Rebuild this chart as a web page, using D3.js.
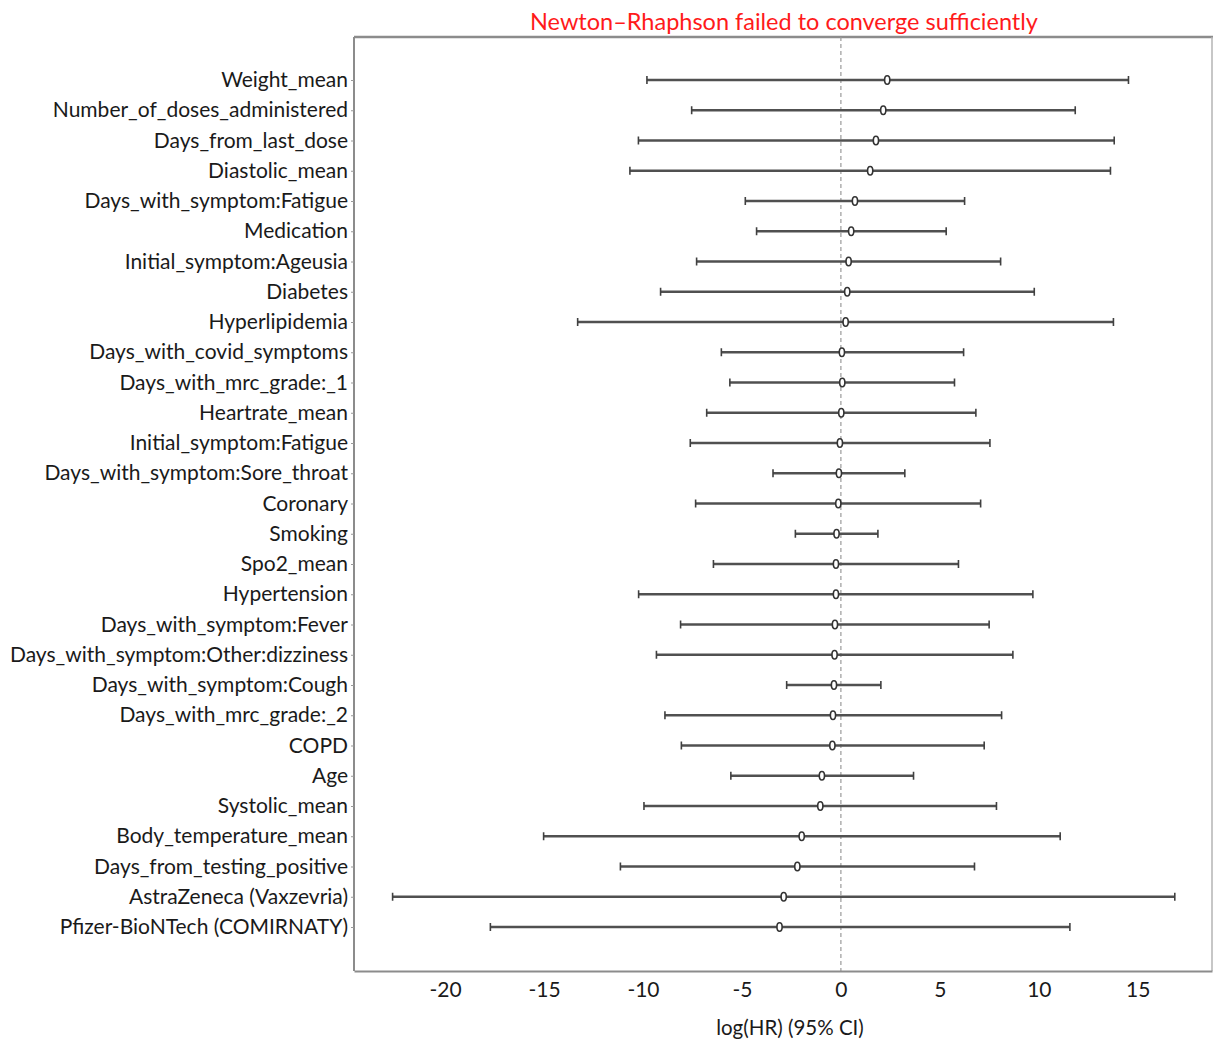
<!DOCTYPE html>
<html>
<head>
<meta charset="utf-8">
<script src="https://cdn.jsdelivr.net/npm/d3@7"></script>
<style>
  body { margin: 0; background: #fff; }
  svg text { font-family: Lato, "Open Sans", sans-serif; }
</style>
</head>
<body>
<svg id="chart" width="1213" height="1041"></svg>
<script>
// covariates, top to bottom
var covariates = [
  'Weight_mean', 'Number_of_doses_administered', 'Days_from_last_dose', 'Diastolic_mean',
  'Days_with_symptom:Fatigue', 'Medication', 'Initial_symptom:Ageusia', 'Diabetes',
  'Hyperlipidemia', 'Days_with_covid_symptoms', 'Days_with_mrc_grade:_1', 'Heartrate_mean',
  'Initial_symptom:Fatigue', 'Days_with_symptom:Sore_throat', 'Coronary', 'Smoking',
  'Spo2_mean', 'Hypertension', 'Days_with_symptom:Fever', 'Days_with_symptom:Other:dizziness',
  'Days_with_symptom:Cough', 'Days_with_mrc_grade:_2', 'COPD', 'Age', 'Systolic_mean',
  'Body_temperature_mean', 'Days_from_testing_positive', 'AstraZeneca (Vaxzevria)',
  'Pfizer-BioNTech (COMIRNATY)'
];
var logHR = [
  2.34, 2.14, 1.77, 1.48, 0.71, 0.52, 0.39, 0.32, 0.24, 0.05,
  0.07, 0.02, -0.05, -0.10, -0.13, -0.22, -0.25, -0.25, -0.30, -0.32,
  -0.35, -0.40, -0.43, -0.96, -1.04, -1.98, -2.20, -2.89, -3.10
];
var ciLower = [
  -9.80, -7.54, -10.23, -10.66, -4.83, -4.26, -7.29, -9.11, -13.30, -6.04,
  -5.61, -6.78, -7.61, -3.43, -7.34, -2.30, -6.44, -10.22, -8.10, -9.32,
  -2.74, -8.89, -8.06, -5.56, -9.95, -15.02, -11.14, -22.65, -17.71
];
var ciUpper = [
  14.53, 11.84, 13.81, 13.62, 6.25, 5.32, 8.07, 9.77, 13.77, 6.20,
  5.74, 6.82, 7.53, 3.23, 7.06, 1.87, 5.94, 9.70, 7.49, 8.69,
  2.02, 8.12, 7.24, 3.67, 7.86, 11.08, 6.75, 16.87, 11.57
];
var xTicks = [-20, -15, -10, -5, 0, 5, 10, 15];

var rows = covariates.map(function(name, i) {
  return { name: name, hr: logHR[i], lo: ciLower[i], hi: ciUpper[i] };
});

var svg = d3.select('#chart');
var plotLeft = 354, plotRight = 1212, plotTop = 37, plotBottom = 971;

var x = d3.scaleLinear().domain([-24.6, 18.75]).range([plotLeft, plotRight]);
var y = d3.scalePoint().domain(covariates).range([80, 927]);

// frame
svg.append('line').attr('x1', plotLeft).attr('x2', plotRight + 1).attr('y1', plotTop).attr('y2', plotTop)
  .attr('stroke', '#8c8c8c').attr('stroke-width', 2.5);
svg.append('line').attr('x1', plotRight).attr('x2', plotRight).attr('y1', plotTop).attr('y2', plotBottom)
  .attr('stroke', '#b5b5b5').attr('stroke-width', 1.5);
svg.append('line').attr('x1', plotLeft).attr('x2', plotLeft).attr('y1', plotTop).attr('y2', plotBottom)
  .attr('stroke', '#8c8c8c').attr('stroke-width', 2);

// zero reference
svg.append('line')
  .attr('x1', x(0)).attr('x2', x(0)).attr('y1', plotTop).attr('y2', plotBottom)
  .attr('stroke', '#9a9a9a').attr('stroke-width', 1.2).attr('stroke-dasharray', '4,3');

// y axis
var yAxis = svg.append('g').attr('transform', 'translate(' + plotLeft + ',0)')
  .call(d3.axisLeft(y).tickSize(3).tickSizeOuter(0).tickPadding(3));
yAxis.select('.domain').remove();
yAxis.selectAll('.tick line').attr('stroke', '#999');
yAxis.selectAll('text').attr('font-size', 21).attr('fill', '#1a1a1a')
  .attr('font-family', 'Lato, sans-serif');

// x axis
var xAxis = svg.append('g').attr('transform', 'translate(0,' + plotBottom + ')')
  .call(d3.axisBottom(x).tickValues(xTicks).tickSize(0).tickSizeOuter(0).tickPadding(11)
    .tickFormat(function(d) { return String(d); }));
xAxis.select('.domain').attr('stroke', '#8c8c8c').attr('stroke-width', 2);
xAxis.selectAll('text').attr('font-size', 21).attr('fill', '#1a1a1a')
  .attr('font-family', 'Lato, sans-serif');

// CI bars
var g = svg.append('g');
g.selectAll('line.ci').data(rows).enter().append('line')
  .attr('class', 'ci')
  .attr('x1', function(d) { return x(d.lo); })
  .attr('x2', function(d) { return x(d.hi); })
  .attr('y1', function(d) { return y(d.name); })
  .attr('y2', function(d) { return y(d.name); })
  .attr('stroke', '#505050').attr('stroke-width', 2.6);

['lo', 'hi'].forEach(function(k) {
  g.selectAll('line.cap-' + k).data(rows).enter().append('line')
    .attr('class', 'cap-' + k)
    .attr('x1', function(d) { return x(d[k]); })
    .attr('x2', function(d) { return x(d[k]); })
    .attr('y1', function(d) { return y(d.name) - 4; })
    .attr('y2', function(d) { return y(d.name) + 4; })
    .attr('stroke', '#404040').attr('stroke-width', 1.6);
});

g.selectAll('ellipse').data(rows).enter().append('ellipse')
  .attr('cx', function(d) { return x(d.hr); })
  .attr('cy', function(d) { return y(d.name); })
  .attr('rx', 2.6).attr('ry', 4.2)
  .attr('fill', '#fff').attr('stroke', '#333').attr('stroke-width', 1.6);

// title and axis label
svg.append('text').attr('x', 784).attr('y', 30).attr('text-anchor', 'middle')
  .attr('font-size', 23.5).attr('fill', '#ff1a1a')
  .text('Newton\u2013Rhaphson failed to converge sufficiently');

svg.append('text').attr('x', 790).attr('y', 1035).attr('text-anchor', 'middle')
  .attr('font-size', 20.5).attr('fill', '#1a1a1a')
  .text('log(HR) (95% CI)');
</script>
</body>
</html>
